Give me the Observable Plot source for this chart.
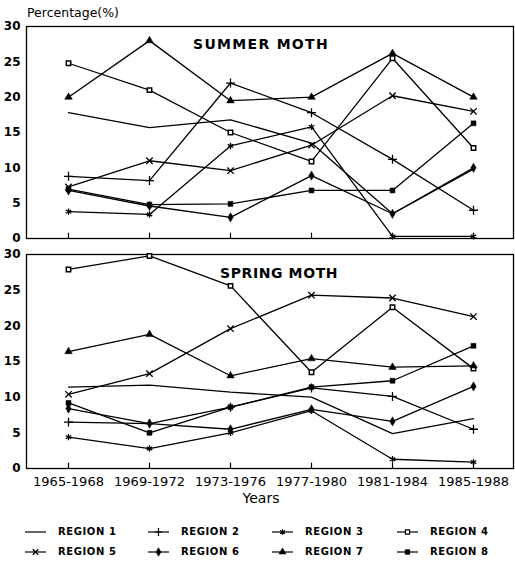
<!DOCTYPE html>
<html><head><meta charset="utf-8">
<script src="https://cdn.jsdelivr.net/npm/d3@7"></script>
<script src="https://cdn.jsdelivr.net/npm/@observablehq/plot@0.6"></script>
<style>
body{margin:0;background:#fff;}
#root{position:relative;width:515px;height:563px;overflow:hidden;font-family:"DejaVu Sans",sans-serif;color:#000;background:#fff;}
.abs{position:absolute;white-space:nowrap;line-height:1;}
#root svg{position:absolute;left:0;overflow:visible;}
</style></head><body><div id="root"></div>
<script>
// ---- data ----
const periods = ["1965-1968","1969-1972","1973-1976","1977-1980","1981-1984","1985-1988"];
const regionNames = ["REGION 1","REGION 2","REGION 3","REGION 4","REGION 5","REGION 6","REGION 7","REGION 8"];
const yTicks = [0,5,10,15,20,25,30];

const summer1 = [17.8, 15.7, 16.8, 13.5, 3.5, 9.8];
const summer2 = [8.8, 8.2, 22.0, 17.8, 11.2, 4.0];
const summer3 = [3.8, 3.4, 13.1, 15.8, 0.3, 0.3];
const summer4 = [24.8, 21.0, 15.0, 10.9, 25.5, 12.8];
const summer5 = [7.3, 11.0, 9.6, 13.2, 20.2, 18.0];
const summer6 = [6.8, 4.6, 3.0, 8.9, 3.5, 10.0];
const summer7 = [20.0, 28.0, 19.5, 20.0, 26.2, 20.0];
const summer8 = [7.0, 4.8, 4.9, 6.8, 6.8, 16.3];

const spring1 = [11.4, 11.7, 10.7, 10.0, 4.9, 7.0];
const spring2 = [6.5, 6.3, 8.6, 11.3, 10.1, 5.5];
const spring3 = [4.4, 2.8, 5.0, 8.1, 1.3, 0.9];
const spring4 = [27.9, 29.8, 25.6, 13.5, 22.6, 14.0];
const spring5 = [10.4, 13.3, 19.6, 24.3, 23.9, 21.3];
const spring6 = [8.4, 6.3, 5.5, 8.3, 6.6, 11.5];
const spring7 = [16.4, 18.8, 13.0, 15.4, 14.2, 14.4];
const spring8 = [9.2, 5.0, 8.6, 11.4, 12.3, 17.2];

const summerSeries = [summer1, summer2, summer3, summer4, summer5, summer6, summer7, summer8];
const springSeries = [spring1, spring2, spring3, spring4, spring5, spring6, spring7, spring8];

// ---- styling (marker per region) ----
const markers = [null, "plus", "asterisk", "square2", "times", "diamond", "triangle", "square"];
const filledMarkers = new Set(["diamond", "triangle", "square"]);
const d3Symbols = {plus: d3.symbolPlus, asterisk: d3.symbolAsterisk, square2: d3.symbolSquare2,
  times: d3.symbolTimes, diamond: d3.symbolDiamond, triangle: d3.symbolTriangle, square: d3.symbolSquare};

function toRows(series) {
  const rows = [];
  series.forEach((vals, i) => vals.forEach((v, j) => rows.push({
    period: periods[j], region: regionNames[i], value: v, sym: markers[i]
  })));
  return rows;
}

const root = document.getElementById("root");

function panel(series, opts) {
  const rows = toRows(series);
  const marks = [
    Plot.frame({stroke: "black", strokeWidth: 1.3}),
    Plot.axisY({ticks: yTicks, tickSize: 0, tickPadding: 6, label: null, fontSize: 12, fontWeight: "bold"}),
    Plot.ruleX(periods, {x: d => d, y1: 0, y2: 0.75, stroke: "black", strokeWidth: 1.2}),
    Plot.line(rows, {x: "period", y: "value", z: "region", stroke: "black", strokeWidth: 1.3}),
    Plot.dot(rows.filter(d => d.sym && !filledMarkers.has(d.sym) && d.sym !== "square2"),
      {x: "period", y: "value", symbol: "sym", r: 3, stroke: "black", strokeWidth: 1.3, fill: "none"}),
    Plot.dot(rows.filter(d => d.sym === "square2"),
      {x: "period", y: "value", symbol: "sym", r: 2.8, stroke: "black", strokeWidth: 1.5, fill: "white"}),
    Plot.dot(rows.filter(d => d.sym && filledMarkers.has(d.sym)),
      {x: "period", y: "value", symbol: "sym", r: 2.8, fill: "black", stroke: "black", strokeWidth: 0.5})
  ];
  if (opts.xAxis) marks.push(Plot.axisX({tickSize: 0, tickPadding: 8, label: null, fontSize: 13}));
  const svg = Plot.plot({
    width: 515, height: opts.height,
    marginLeft: 26, marginRight: 2, marginTop: opts.mt, marginBottom: opts.mb,
    x: {type: "point", domain: periods, range: [66, 475], padding: 0, axis: null},
    y: {domain: [0, 30], axis: null},
    style: {fontFamily: "DejaVu Sans, sans-serif", fontSize: "12px", background: "transparent", color: "black"},
    marks
  });
  svg.style.top = opts.top + "px";
  root.appendChild(svg);
}

panel(summerSeries, {top: 0, height: 244, mt: 26, mb: 6, xAxis: false});
panel(springSeries, {top: 244, height: 251, mt: 10, mb: 27, xAxis: true});

function addText(txt, css) {
  const s = document.createElement("span");
  s.className = "abs";
  s.textContent = txt;
  Object.assign(s.style, css);
  root.appendChild(s);
  return s;
}
addText("Percentage(%)", {left: "27px", top: "7px", fontSize: "12.5px"});
addText("SUMMER MOTH", {left: "193px", top: "37px", fontSize: "14px", fontWeight: "bold", letterSpacing: "1.3px"});
addText("SPRING MOTH", {left: "220px", top: "266px", fontSize: "14px", fontWeight: "bold", letterSpacing: "0.6px"});
addText("Years", {left: "261px", top: "491px", fontSize: "14px", transform: "translateX(-50%)"});

// legend
const legendCols = [25, 148, 272, 397];
regionNames.forEach((name, i) => {
  const col = i % 4, row = Math.floor(i / 4);
  const cy = row === 0 ? 532 : 552;
  const x0 = legendCols[col];
  const svg = d3.select(root).append("svg")
    .attr("width", 24).attr("height", 12)
    .style("left", x0 + "px").style("top", (cy - 6) + "px");
  svg.append("line").attr("x1", 0).attr("x2", 21).attr("y1", 6).attr("y2", 6)
    .attr("stroke", "black").attr("stroke-width", 1.2);
  const m = markers[i];
  if (m) {
    const filled = filledMarkers.has(m);
    svg.append("path").attr("transform", "translate(10.5,6)")
      .attr("d", d3.symbol(d3Symbols[m], 22)())
      .attr("fill", filled ? "black" : (m === "square2" ? "white" : "none"))
      .attr("stroke", "black").attr("stroke-width", filled ? 0.5 : 1.2);
  }
  addText(name, {left: (x0 + 33) + "px", top: (cy - 5) + "px", fontSize: "10px", fontWeight: "bold", letterSpacing: "0.6px"});
});
</script>
</body></html>
